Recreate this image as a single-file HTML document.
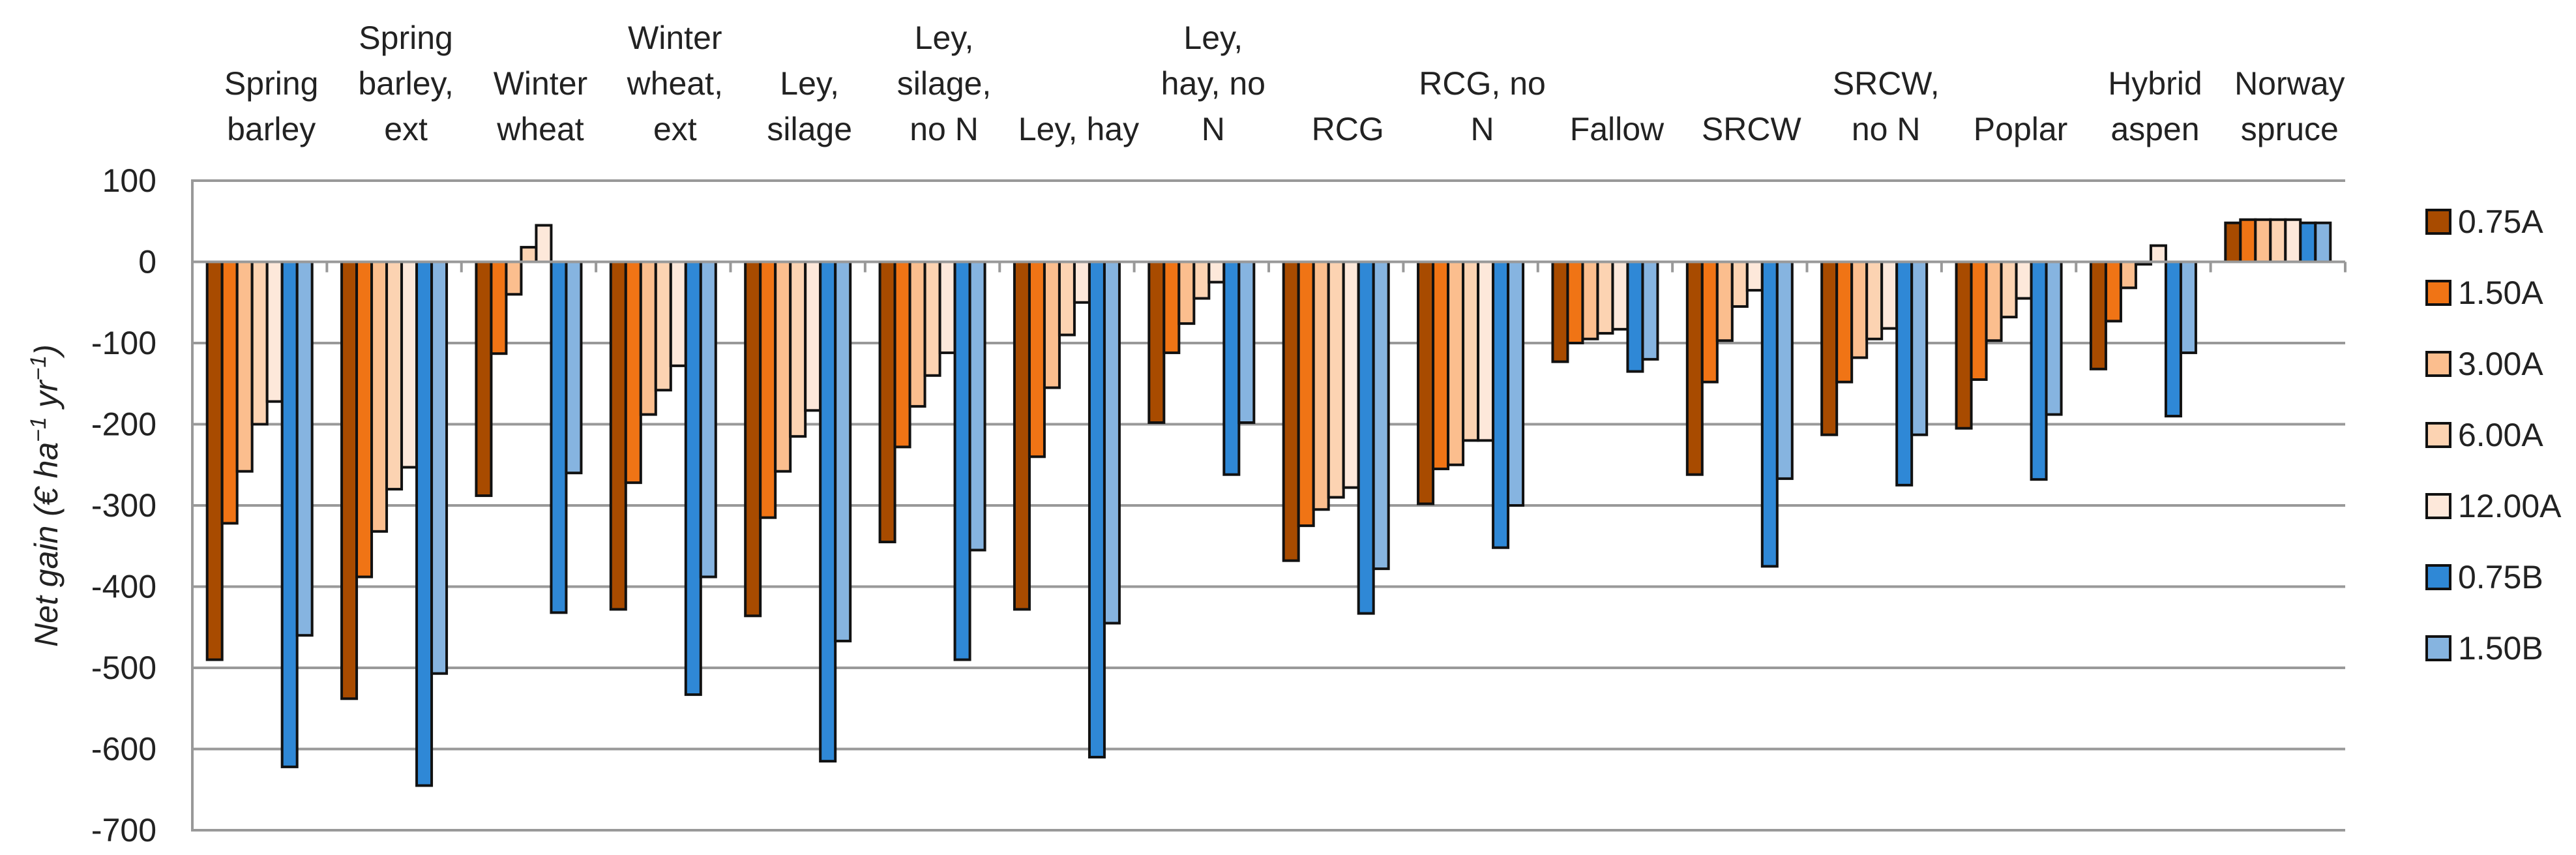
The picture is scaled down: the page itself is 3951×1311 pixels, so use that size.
<!DOCTYPE html>
<html><head><meta charset="utf-8"><style>
body{margin:0;background:#fff;}
svg{display:block;font-family:"Liberation Sans","DejaVu Sans",sans-serif;}
</style></head><body>
<svg id="chart" width="3951" height="1311" viewBox="0 0 3951 1311" xmlns="http://www.w3.org/2000/svg">
<g id="grid"></g>
<g id="bars"></g>
<g id="axes"></g>
<g id="cats"></g>
<g id="legend"></g>
<text transform="translate(88,760) rotate(-90)" text-anchor="middle" font-size="50" font-style="italic" fill="#222">Net gain (€ ha<tspan dy="-18" font-size="34">−1</tspan><tspan dy="18"> yr</tspan><tspan dy="-18" font-size="34">−1</tspan><tspan dy="18">)</tspan></text>
</svg>
<script>
const categories=[["Spring","barley"],["Spring","barley,","ext"],["Winter","wheat"],["Winter","wheat,","ext"],["Ley,","silage"],["Ley,","silage,","no N"],["Ley, hay"],["Ley,","hay, no","N"],["RCG"],["RCG, no","N"],["Fallow"],["SRCW"],["SRCW,","no N"],["Poplar"],["Hybrid","aspen"],["Norway","spruce"]];
const seriesNames=["0.75A","1.50A","3.00A","6.00A","12.00A","0.75B","1.50B"];
const s075A=[-490,-538,-288,-428,-436,-345,-428,-198,-368,-298,-123,-262,-213,-205,-132,48];
const s150A=[-322,-388,-113,-272,-315,-228,-240,-112,-325,-255,-100,-148,-148,-145,-73,52];
const s300A=[-258,-332,-40,-188,-258,-178,-155,-76,-305,-250,-95,-97,-118,-97,-32,52];
const s600A=[-200,-280,18,-158,-215,-140,-90,-45,-290,-220,-88,-55,-95,-68,-3,52];
const s1200A=[-172,-253,45,-128,-183,-112,-50,-25,-278,-220,-83,-35,-82,-45,20,52];
const s075B=[-622,-645,-432,-533,-615,-490,-610,-262,-433,-352,-135,-375,-275,-268,-190,48];
const s150B=[-460,-507,-260,-388,-467,-355,-445,-198,-378,-300,-120,-267,-213,-188,-112,48];
const yTicks=[100,0,-100,-200,-300,-400,-500,-600,-700];
const colors=["#A84B00","#F07415","#FBBE8E","#FCD3B2","#FDE8DA","#2F88D6","#86B4E0"];
const series=[s075A,s150A,s300A,s600A,s1200A,s075B,s150B];
const NS="http://www.w3.org/2000/svg";
const L=295,R=3597,T=277,B=1273,yMax=100,yMin=-700;
const y=v=>T+(yMax-v)/(yMax-yMin)*(B-T);
const catW=(R-L)/categories.length, barW=23;
function mk(tag,attrs,parent){const e=document.createElementNS(NS,tag);for(const k in attrs)e.setAttribute(k,attrs[k]);parent.appendChild(e);return e;}
const grid=document.getElementById('grid'),bars=document.getElementById('bars'),axes=document.getElementById('axes'),cats=document.getElementById('cats'),leg=document.getElementById('legend');
yTicks.forEach(t=>{
  if(t!==0){const g=mk('line',{x1:L,x2:R,y1:y(t),y2:y(t),stroke:'#999','stroke-width':4},grid);
  
  }
  const tx=mk('text',{x:240,y:y(t)+17,'text-anchor':'end','font-size':50,fill:'#222'},axes);tx.textContent=t;
  
  
});
const la=mk('line',{x1:L,x2:L,y1:T-2,y2:B+2,stroke:'#999','stroke-width':4},axes);


categories.forEach((c,i)=>{
  const x0=L+i*catW, start=x0+(catW-7*barW)/2;
  series.forEach((s,j)=>{
    const v=s[i],y0=y(0),yv=y(v);
    const r=mk('rect',{x:start+j*barW,y:Math.min(y0,yv),width:barW,height:Math.abs(yv-y0),fill:colors[j],stroke:'#111','stroke-width':4},bars);
    
    
  });
  const lh=70, n=c.length;
  c.forEach((ln,k)=>{
    const tx=mk('text',{x:x0+catW/2+18,y:215-(n-1-k)*lh,'text-anchor':'middle','font-size':50,fill:'#222'},cats);tx.textContent=ln;
    
    
  });
});
for(let i=0;i<=categories.length;i++){
  const tk=mk('line',{x1:L+i*catW,x2:L+i*catW,y1:y(0),y2:y(0)+16,stroke:'#999','stroke-width':4},axes);
  
  
}
const zl=mk('line',{x1:L,x2:R,y1:y(0),y2:y(0),stroke:'#999','stroke-width':4},axes);


seriesNames.forEach((nm,j)=>{
  const cy=339+j*109;
  const g=mk('g',{},leg);
  
  
  mk('rect',{x:3722,y:cy-17,width:36,height:36,fill:colors[j],stroke:'#111','stroke-width':4},g);
  const t=mk('text',{x:3770,y:cy+18,'font-size':50,fill:'#222'},g);t.textContent=nm;
});
</script>
</body></html>
